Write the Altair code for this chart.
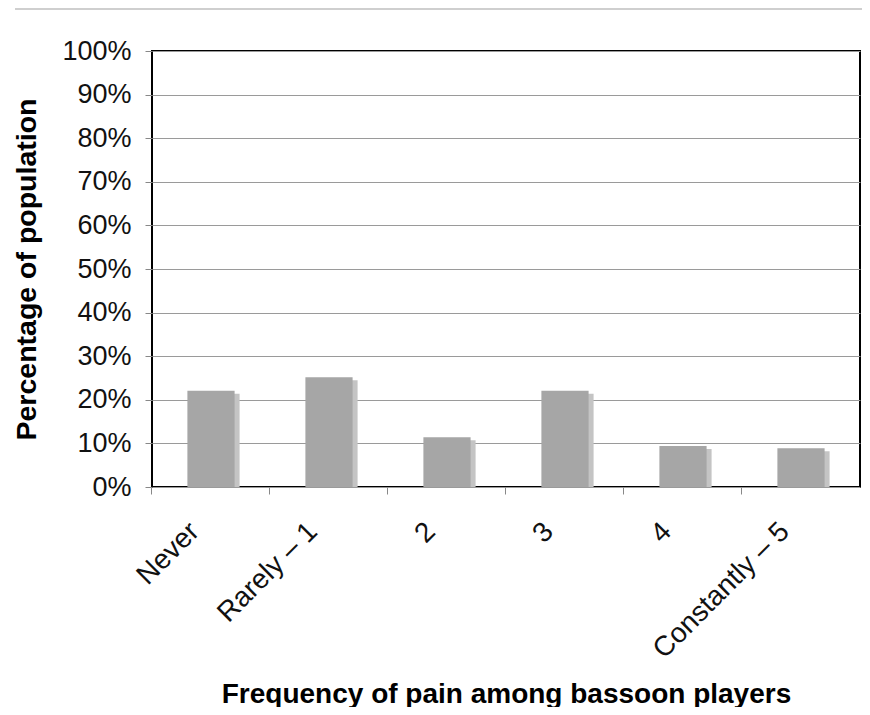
import altair as alt
import pandas as pd

categories = ["Never", "Rarely – 1", "2", "3", "4", "Constantly – 5"]
percentages = [22.1, 25.2, 11.4, 22.1, 9.4, 8.9]

df = pd.DataFrame({"cat": categories, "pct": percentages})

FONT = "Liberation Sans"

x_enc = alt.X(
    "cat:N",
    sort=categories,
    scale=alt.Scale(paddingInner=0.6, paddingOuter=0.3),
    axis=alt.Axis(
        title="Frequency of pain among bassoon players",
        titleFont=FONT, titleFontSize=28, titleFontWeight="bold", titleColor="#000",
        titleY=215, titleBaseline="alphabetic",
        labelFont=FONT, labelFontSize=28, labelColor="#111",
        labelAngle=-45, labelAlign="right", labelBaseline="middle",
        labelOffset=-16, labelPadding=33,
        bandPosition=-0.755, ticks=True, tickSize=7, tickColor="#888",
        domain=False, grid=False,
    ),
)
y_enc = alt.Y(
    "pct:Q",
    scale=alt.Scale(domain=[0, 100], nice=False),
    axis=alt.Axis(
        title="Percentage of population",
        titleFont=FONT, titleFontSize=28.5, titleFontWeight="bold", titleColor="#000",
        titlePadding=20,
        labelFont=FONT, labelFontSize=27, labelColor="#111",
        labelExpr="datum.value + '%'", labelPadding=14,
        values=[0, 10, 20, 30, 40, 50, 60, 70, 80, 90, 100],
        tickSize=7, tickColor="#888", domain=False,
        grid=True, gridColor="#9a9a9a", gridWidth=1,
    ),
)

base = alt.Chart(df)

shadow = base.mark_bar(color="#c4c4c4", xOffset=5, yOffset=3, clip=True).encode(x=x_enc, y=y_enc)
bars = base.mark_bar(color="#a6a6a6").encode(x=x_enc, y=y_enc)

topline = alt.Chart(df).mark_rule(color="#cfcfcf", strokeWidth=2).encode(
    x=alt.value(-137), x2=alt.value(710), y=alt.value(-42)
)

chart = (
    alt.layer(shadow, bars, topline)
    .properties(
        width=708,
        height=436,
        autosize=alt.AutoSizeParams(type="none"),
        padding={"left": 144, "top": 43, "right": 2, "bottom": 220},
        background="white",
    )
    .configure_view(stroke="black", strokeWidth=2)
)

chart.save("out.html", embed_options={"renderer": "svg", "actions": False})
